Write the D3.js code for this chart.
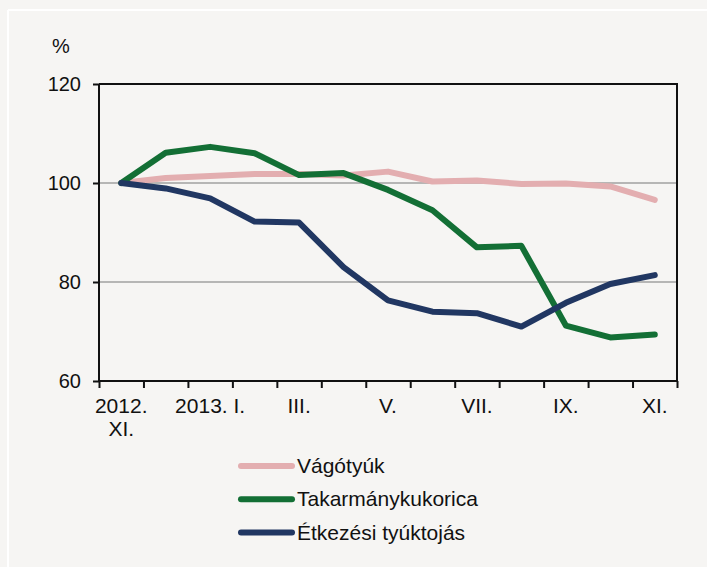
<!DOCTYPE html>
<html>
<head>
<meta charset="utf-8">
<script src="https://cdn.jsdelivr.net/npm/d3@7"></script>
<style>
    body { margin: 0; background: #f6f5f3; }
    text { font-family: "Liberation Sans", Arial, sans-serif; fill: #111; }
</style>
</head>
<body>
<div id="chart"></div>
<script>
var months = ["2012. XI.", "XII.", "2013. I.", "II.", "III.", "IV.", "V.", "VI.", "VII.", "VIII.", "IX.", "X.", "XI."];
var shownLabels = [["2012.", "XI."], null, ["2013. I."], null, ["III."], null, ["V."], null, ["VII."], null, ["IX."], null, ["XI."]];
var vagotyuk = [100, 101.0, 101.4, 101.8, 101.8, 101.5, 102.3, 100.3, 100.5, 99.8, 99.9, 99.3, 96.6];
var takarmany = [100, 106.1, 107.3, 106.0, 101.6, 102.0, 98.6, 94.5, 87.0, 87.3, 71.2, 68.8, 69.4];
var tojas = [100, 98.9, 96.9, 92.2, 92.0, 83.0, 76.3, 74.0, 73.7, 71.0, 75.8, 79.6, 81.4];
var yTicks = [60, 80, 100, 120];
var seriesNames = ["Vágótyúk", "Takarmánykukorica", "Étkezési tyúktojás"];
var seriesColors = ["#e3aeb0", "#136f35", "#213762"];

var w = 707, h = 567;
var plotLeft = 99, plotRight = 677, plotTop = 84, plotBottom = 381;

var svg = d3.select("#chart")
    .append("svg")
    .attr("width", w)
    .attr("height", h);

svg.append("rect").attr("width", w).attr("height", h).attr("fill", "#f6f5f3");

// white frame lines (top and left)
svg.append("line").attr("x1", 8).attr("x2", w).attr("y1", 10).attr("y2", 10)
    .attr("stroke", "#fff").attr("stroke-width", 2);
svg.append("line").attr("x1", 8).attr("x2", 8).attr("y1", 10).attr("y2", h)
    .attr("stroke", "#fff").attr("stroke-width", 2);

var xScale = d3.scaleBand().domain(months).range([plotLeft, plotRight]);
var yScale = d3.scaleLinear().domain([60, 120]).range([plotBottom, plotTop]);

// gridlines
svg.selectAll(".grid")
    .data([80, 100])
    .enter()
    .append("line")
    .attr("x1", plotLeft).attr("x2", plotRight)
    .attr("y1", function (d) { return yScale(d); })
    .attr("y2", function (d) { return yScale(d); })
    .attr("stroke", "#a0a0a0")
    .attr("stroke-width", 1.3);

// plot border (top + right)
svg.append("path")
    .attr("d", "M" + plotLeft + "," + plotTop + "H" + plotRight + "V" + plotBottom)
    .attr("fill", "none")
    .attr("stroke", "#111")
    .attr("stroke-width", 2);

// lines
var line = d3.line()
    .x(function (d, i) { return xScale(months[i]) + xScale.bandwidth() / 2; })
    .y(function (d) { return yScale(d); });

[vagotyuk, takarmany, tojas].forEach(function (s, i) {
    svg.append("path")
        .datum(s)
        .attr("d", line)
        .attr("fill", "none")
        .attr("stroke", seriesColors[i])
        .attr("stroke-width", 6)
        .attr("stroke-linejoin", "round")
        .attr("stroke-linecap", "round");
});

//y axis
var yAxis = d3.axisLeft(yScale).tickValues(yTicks).tickSize(6).tickPadding(12);
var gy = svg.append("g")
    .attr("transform", "translate(" + plotLeft + ",0)")
    .call(yAxis);
gy.select(".domain").attr("stroke", "#111").attr("stroke-width", 2).attr("d", "M0," + plotTop + "V" + plotBottom);
gy.selectAll(".tick line").attr("stroke", "#111").attr("stroke-width", 2);
gy.selectAll(".tick text").style("font-size", "20px").attr("fill", "#111").attr("font-family", null);

//x axis, ticks at category boundaries
var xb = d3.scaleLinear().domain([0, months.length]).range([plotLeft, plotRight]);
var xAxis = d3.axisBottom(xb).tickValues(d3.range(0, months.length + 1)).tickSize(7).tickFormat("");
var gx = svg.append("g")
    .attr("transform", "translate(0," + plotBottom + ")")
    .call(xAxis);
gx.select(".domain").attr("stroke", "#111").attr("stroke-width", 2).attr("d", "M" + plotLeft + ",0H" + plotRight);
gx.selectAll(".tick line").attr("stroke", "#111").attr("stroke-width", 2);

shownLabels.forEach(function (lab, i) {
    if (!lab) return;
    var cx = xScale(months[i]) + xScale.bandwidth() / 2;
    var t = svg.append("text")
        .attr("x", cx)
        .attr("y", 413)
        .attr("text-anchor", "middle")
        .style("font-size", "21px");
    lab.forEach(function (l, j) {
        t.append("tspan")
            .attr("x", cx)
            .attr("dy", j === 0 ? 0 : 23)
            .text(l);
    });
});

svg.append("text")
    .attr("x", 61)
    .attr("y", 53)
    .attr("text-anchor", "middle")
    .style("font-size", "20px")
    .text("%");

// legend
var legend = svg.selectAll(".legend")
    .data(seriesNames)
    .enter()
    .append("g")
    .attr("transform", function (d, i) { return "translate(0," + (466 + i * 33.3) + ")"; });
legend.append("line")
    .attr("x1", 241).attr("x2", 292)
    .attr("stroke", function (d, i) { return seriesColors[i]; })
    .attr("stroke-width", 6)
    .attr("stroke-linecap", "round");
legend.append("text")
    .attr("x", 297)
    .attr("y", 7)
    .style("font-size", "21px")
    .text(function (d) { return d; });
</script>
</body>
</html>
